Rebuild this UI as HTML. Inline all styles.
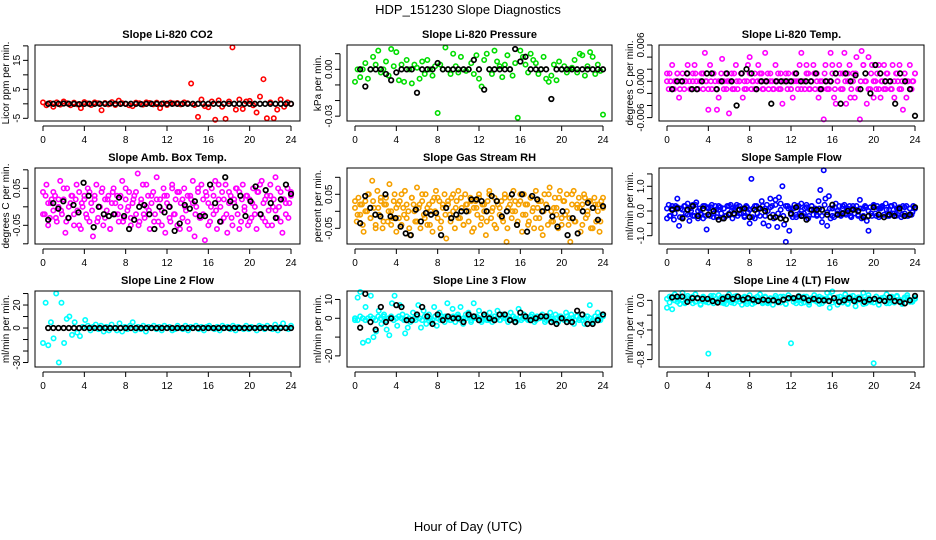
<!DOCTYPE html>
<html><head><meta charset="utf-8">
<style>
html,body{margin:0;padding:0;background:#fff;}
svg{display:block;font-family:"Liberation Sans",sans-serif;}
</style></head>
<body>
<svg id="fig" width="936" height="540" viewBox="0 0 936 540">
<text x="468" y="14" text-anchor="middle" font-size="13">HDP_151230  Slope Diagnostics</text>
<text x="468" y="531" text-anchor="middle" font-size="13">Hour of Day (UTC)</text>
</svg>
<script>
const xTicks=[0,4,8,12,16,20,24];
// Panel 1 CO2
const co2Vals=[0.5,-0.5,0.3,-1,0.5,-0.3,0.8,0.2,-0.5,0.4,-0.2,-1.5,0.6,0.1,-0.4,0.5,0.2,-2.2,0.3,-0.2,0.6,-0.4,1.1,0.2,0,-0.5,-0.8,0.4,0.2,-0.3,0.5,0.3,-0.2,0.4,-1.5,0.2,-0.4,0.4,0.1,0.3,-0.2,0.5,0.2,7,-0.4,-4.5,1.5,-0.8,-1.2,0.8,-5.5,1.2,-1.0,-5.2,0.8,19.5,-2,1.5,-1.8,0.8,1.0,-0.5,-3,2.5,8.5,-5,0.5,-5,-2,1.5,-1,0.5,0];
const co2Vals2=[];
const co2Ref=[0,0,0,0.1,0,0,-0.1,0,0,0,0,0,0.1,0,0,0,0,0,-0.1,0,0,0,0,0,0,0,0,0,0,0,0,0,0,0,0,0,0,0,0,0,0,0,0,0,0,0,0,0];
// Panel 2 Pressure
const presVals=[-0.008,0,-0.005,0,0.004,-0.006,0,0.008,0.003,0.012,-0.002,0,0.005,-0.004,0.013,0.002,0.011,-0.007,0.003,-0.008,0.006,0,-0.009,0.003,0.001,-0.006,0.005,-0.003,0.006,0,-0.004,0.002,-0.028,0.003,0,0.014,0,-0.003,0.01,0.002,-0.002,0.008,0,-0.001,0,0.004,-0.003,0.009,-0.006,-0.011,0.006,0.01,0,-0.003,0.012,0.005,0.002,-0.005,0.003,0.009,0,-0.004,0.004,-0.031,0.012,0.008,0.003,-0.002,0.01,0.006,0.004,-0.003,0,0.008,-0.006,-0.008,-0.004,0.003,-0.007,0.005,0,0.002,-0.002,0,0.001,0.006,-0.002,0.01,0.009,-0.004,0.002,0.011,0.008,-0.003,0.003,-0.001,-0.029];
const presVals2=[];
const presRef=[0,-0.011,0,0,0,-0.003,-0.007,-0.002,0,0,0,-0.015,0,0,0,0.004,0,0,0,0,0,0,0.006,0,-0.013,0,0,0,0,0,0.013,0.005,0.008,0,0,0,0,-0.019,0,0,0,0,0,0,0,0,0,0];
// Panel 3 Li-820 temp (values in 0.001 degC/min)
const tempValsMilli=[1.3,-1.3,0,2.7,-1.3,0,1.3,-2.7,0,1.3,-1.3,0,2.7,0,-1.3,1.3,2.7,0,-1.3,0,1.3,-1.3,4.7,0,-4.7,2.7,-1.3,1.3,0,-4.7,-2.7,0,3.7,-1.3,1.3,0,-5.3,0,-1.3,1.3,2.7,-1.3,0,1.3,-2.7,0,-1.3,2.7,4,-1.3,0,1.3,-1.3,2.7,0,1.3,-1.3,4.7,0,-1.3,1.3,0,-1.3,2.7,0,-1.3,1.3,-3.7,0,1.3,-1.3,0,-1.3,-2.7,1.3,0,-1.3,2.7,4.7,0,-1.3,2.7,1.3,-1.3,0,2.7,-1.3,1.3,-2.7,0,-1.3,-6.3,2.7,0,-1.3,4.7,1.3,-2.7,-3.7,0,2.7,-1.3,1.3,4.7,-3.7,0,2.7,-1.3,1.3,-2.7,4,-1.3,-6.3,5,2.7,0,-3.7,4,-1.3,2.7,-2.7,0,1.3,-1.3,-2.7,0,2.7,-1.3,1.3,0,-1.3,2.7,-2.7,1.3,0,2.7,-1.3,-4.7,1.3,-2.7,0,2.7,-1.3,0,1.3];
const tempValsMilli2=[0,1.3,-1.3,0,1.3,-1.3,0,0,1.3,-1.3,0,1.3,-1.3,0,1.3,0,-1.3,0,1.3,-1.3,0,1.3,0,-1.3,0,1.3,-1.3,0,0,1.3,-1.3,0,1.3,0,-1.3,0,1.3,-1.3,0,1.3,0,-1.3,0,1.3,-1.3,0,0,1.3,-1.3,0,1.3,0,-1.3,0,1.3,-1.3,0,1.3,0,-1.3,0,1.3,-1.3,0,2.7,-1.3,0,1.3,-1.3,0,1.3,-2.7,0,1.3,-1.3,0,2.7,0,-1.3,1.3,0,-1.3,2.7,0,-1.3,1.3,0,-1.3,0,1.3,-1.3,0,1.3,0,-1.3,0,1.3];
const tempRefMilli=[-1.3,0,0,1.3,-1.3,-1.3,0,1.3,1.3,-1.3,0,1.3,0,-4,1.3,2,1.3,-1.3,0,0,-3.7,0,0,0,0,1.3,0,0,0,1.3,-1.3,0,0,1.3,-3.7,1.3,0,1,-1.3,1.3,-2,2.7,1.3,0,0,-3.7,1.3,0,-1.3,-5.7];
// Panel 4 Amb box temp
const ambVals=[0.04,-0.02,0.06,0.01,-0.03,0.02,-0.01,0.03,-0.04,0.00,0.07,-0.02,0.02,-0.07,0.05,-0.03,0.01,0.03,-0.05,0.02,-0.01,0.04,-0.06,0.00,0.03,-0.02,0.05,-0.04,0.01,-0.08,0.02,0.06,-0.03,0.00,0.04,-0.05,0.02,-0.01,0.03,-0.06,0.01,0.05,-0.02,0.03,-0.04,0.00,0.07,-0.03,0.02,-0.01,0.04,-0.05,0.01,0.03,-0.02,0.09,-0.04,0.02,0.06,-0.03,0.00,0.03,-0.06,0.01,0.04,-0.02,0.08,-0.04,0.02,-0.01,0.05,-0.07,0.03,0.00,-0.04,0.06,-0.02,0.02,-0.05,0.04,0.01,-0.03,0.05,-0.01,0.03,-0.06,0.02,0.07,-0.08,0.00,0.04,-0.03,0.06,-0.02,-0.09,0.03,0.01,-0.04,0.05,-0.02,0.07,-0.06,0.02,0.00,0.04,-0.03,0.06,-0.07,0.01,0.03,-0.05,0.02,0.05,-0.02,0.04,-0.04,0.06,-0.01,0.03,-0.05,0.02,-0.03,0.05,0.00,-0.06,0.04,-0.02,0.07,0.01,-0.04,0.03,-0.01,0.06,-0.05,0.02,0.08,-0.03,0.00,0.04,-0.07,0.02,-0.02,0.05,0.01,0.03];
const ambVals2=[-0.02,0.03,-0.05,0.01,0.04,-0.03,0.02,-0.01,0.05,-0.04,0.00,0.03,-0.02,0.06,-0.05,0.01,0.02,-0.03,0.04,-0.01,0.03,-0.04,0.00,0.05,-0.03,0.02,-0.06,0.04,0.01,-0.02,0.03,-0.04,0.05,0.00,-0.03,0.02,0.04,-0.05,0.01,-0.02,0.06,-0.01,0.03,-0.04,0.02,0.00,-0.05,0.03,0.01,-0.03,0.05,-0.02,0.04,-0.06,0.02,0.00,-0.04,0.03,0.01,-0.02,0.05,-0.03,0.02,0.04,-0.05,0.00,0.03,-0.01,0.06,-0.04,0.02,-0.02,0.04,-0.03,0.01,0.05,-0.06,0.02,0.00,0.03,-0.04,0.01,-0.02,0.04,0.06,-0.03,0.02,-0.05,0.03,0.00,-0.01,0.05,-0.04,0.02,0.01,-0.03,0.04];
const ambRef=[-0.035,0.01,-0.005,0.015,-0.03,0.005,-0.015,0.065,0.03,-0.055,0,-0.02,-0.025,-0.02,0.025,-0.025,-0.06,-0.035,0.0,0.005,-0.02,-0.06,0.0,-0.015,0.0,-0.065,-0.045,0.005,-0.005,0.015,-0.025,-0.025,0.06,0.01,-0.04,0.08,0.015,0.0,0.03,-0.025,0.015,0.055,-0.02,0.045,0.01,-0.03,0.02,0.06,0.035];
// Panel 5 RH
const rhVals=[0.01,-0.03,0.04,-0.01,0.02,-0.06,0.03,0.00,0.05,-0.02,0.09,0.01,-0.04,0.06,-0.01,0.03,-0.05,0.02,0.04,-0.03,0.08,0.00,-0.02,0.05,-0.06,0.02,0.03,-0.04,0.01,0.06,-0.02,0.00,-0.07,0.04,0.02,-0.03,0.07,0.01,-0.05,0.03,-0.01,0.05,-0.04,0.02,0.00,-0.06,0.04,0.06,-0.02,0.03,-0.03,0.01,0.05,-0.08,0.02,-0.01,0.04,0.00,-0.05,0.03,0.06,-0.02,0.01,-0.04,0.05,0.02,-0.03,0.04,-0.06,0.01,0.03,-0.01,0.05,-0.04,0.02,0.00,-0.07,0.03,0.06,-0.02,0.01,0.04,-0.05,0.02,-0.01,0.03,-0.03,0.05,-0.09,0.01,0.04,-0.02,0.06,0.00,-0.04,0.02,0.03,-0.06,0.05,-0.01,0.02,-0.03,0.04,0.00,-0.05,0.06,0.01,-0.02,0.03,-0.07,0.05,0.02,-0.04,0.07,0.00,-0.03,0.04,0.01,-0.05,0.06,-0.02,0.03,-0.01,0.05,-0.04,-0.09,0.02,0.06,-0.03,0.01,0.04,-0.06,0.02,0.05,-0.02,0.00,0.03,-0.05,0.01,0.04,-0.03,0.02,-0.06,0.03,0.01];
const rhVals2=[0.03,-0.01,0.02,-0.04,0.00,0.05,-0.02,0.03,-0.05,0.01,0.04,-0.03,0.02,0.00,-0.04,0.03,0.01,-0.02,0.05,-0.01,0.02,-0.05,0.04,0.00,-0.03,0.02,0.05,-0.02,0.01,-0.04,0.03,0.00,0.04,-0.05,0.02,-0.01,0.03,-0.03,0.05,0.01,-0.02,0.04,-0.04,0.02,0.00,0.03,-0.05,0.01,0.04,-0.02,0.02,-0.03,0.05,0.00,-0.04,0.03,0.01,-0.02,0.04,-0.05,0.02,0.00,0.03,-0.03,0.05,-0.01,0.02,-0.04,0.04,0.01,-0.02,0.03,-0.05,0.00,0.02,0.05,-0.03,0.01,-0.01,0.04,-0.04,0.03,0.00,-0.02,0.05,-0.03,0.02,0.01,-0.04,0.04,-0.01,0.03,-0.05,0.02,0.00,-0.03,0.04];
const rhRef=[-0.035,0.045,0.01,-0.01,-0.015,0.05,-0.015,-0.02,-0.045,-0.065,-0.07,0.005,-0.03,-0.005,-0.01,-0.005,-0.07,0.01,-0.02,-0.01,0,0,0.035,0.035,0.03,0,0.045,0.03,-0.015,0,0.05,-0.04,0.05,-0.06,0.045,0.035,0,0.01,-0.015,-0.045,0,-0.07,-0.02,-0.065,0,0.025,0.01,-0.025,0.015];
// Panel 6 Sample flow
const sampVals=[-0.3,0.25,-0.2,0.1,-0.35,0.2,0.5,-0.6,0.1,-0.25,0.2,-0.1,0.3,-0.4,0.0,0.25,-0.2,0.35,-0.3,0.1,-0.15,-0.3,0.2,-0.75,0.15,-0.2,0.25,-0.1,0.2,-0.25,0.05,0.15,-0.3,0.1,-0.2,0.2,-0.1,0.25,-0.3,0.05,0.15,-0.2,0.2,-0.1,0.1,-0.25,0.2,-0.05,-0.5,1.3,0.1,-0.3,0.2,0.1,-0.2,0.4,-0.5,0.1,0.25,-0.6,0.5,0.2,-0.3,0.45,-0.65,0.55,0.3,1.0,-0.55,-1.25,0.2,-0.8,0.1,-0.25,0.25,-0.15,0.2,-0.1,0.3,-0.2,0.1,0.25,-0.3,0.05,0.2,-0.15,0.1,-0.2,0.4,0.85,-0.45,1.65,0.5,-0.6,0.6,-0.3,0.1,-0.25,0.3,-0.1,0.2,-0.2,0.1,0.25,-0.15,0.05,0.2,-0.25,0.1,-0.1,0.2,-0.2,0.45,-0.3,0.1,0.2,-0.4,-0.8,0.15,-0.2,0.25,-0.1,0.2,-0.25,0.1,0.2,-0.15,0.3,-0.2,0.05,0.2,-0.1,0.25,-0.2,0.1,0.15,-0.25,0.2,-0.1,0.2,-0.2,0.1,-0.15,0.2,0.1];
const sampVals2=[0.1,-0.2,0.2,-0.1,0.15,-0.25,0.05,0.2,-0.15,0.1,-0.2,0.25,0.0,-0.1,0.2,-0.2,0.1,0.15,-0.25,0.05,0.2,-0.1,0.1,-0.2,0.2,0.0,-0.15,0.25,-0.1,0.1,-0.2,0.15,0.05,-0.25,0.2,-0.1,0.1,0.2,-0.2,0.0,0.15,-0.15,0.25,-0.1,0.05,-0.2,0.2,0.1,-0.15,0.1,-0.25,0.2,0.0,-0.1,0.15,-0.2,0.2,0.05,-0.15,0.1,-0.2,0.25,-0.05,0.1,-0.2,0.15,0.0,-0.15,0.2,-0.1,0.1,-0.2,0.2,0.05,-0.15,0.1,-0.2,0.15,0.0,-0.1,0.2,-0.2,0.1,0.15,-0.15,0.05,-0.2,0.2,-0.1,0.1,0.0,-0.15,0.15,-0.2,0.1,-0.05,0.1];
const sampRef=[0.05,0.1,-0.3,0.05,0.2,-0.2,0.1,-0.15,0.0,-0.35,-0.3,-0.15,-0.1,0.05,0.1,-0.25,0.05,0.1,0.0,-0.25,-0.25,-0.3,-0.35,-0.1,0.15,-0.2,-0.35,0.05,0.05,0.05,-0.15,0.25,-0.15,-0.1,0.0,0.05,0.0,-0.25,-0.2,0.15,-0.15,-0.25,-0.15,-0.2,0.1,-0.2,-0.15,0.15];
// Panel 7 Line 2
const l2Vals=[-13,22,-15,5,-9,30,-30,22,-13,8,10,-6,5,-4,-7,1,7,2,-2,1,3,-1,2,-3,1,-2,3,0,-2,4,-3,1,-1,2,5,-2,1,-1,2,-3,1,0,2,-1,1,-2,2,0,1,-2,-1,2,0,-1,2,-2,1,0,2,-1,1,-2,1,2,0,-1,1,-2,2,0,1,-1,2,-2,1,0,-1,2,-1,1,0,-2,2,1,-1,2,0,-1,3,-2,1,4,0,-1,2];
const l2Vals2=[];
const l2Ref=[0,0,0,0,0,0,0,0,0,0,0,0,0,0,0,0,0,0,0,0,0,0,0,0,0,0,0,0,0,0,0,0,0,0,0,0,0,0,0,0,0,0,0,0,0,0,0,0];
// Panel 8 Line 3
const l3Vals=[-1,11,14,-13,6,-12,12,-10,-7,4,-3,2,-6,-9,8,12,-4,7,2,-8,-5,-2,3,-1,7,-5,4,-3,2,-2,6,-4,3,1,-2,8,-1,5,-2,2,6,-3,2,3,-2,8,0,4,-2,2,-1,3,-2,1,4,-1,2,0,-2,3,1,-2,5,-1,2,0,-1,2,-2,1,0,2,-2,1,3,-1,2,-2,1,0,3,-1,2,-3,1,-1,2,-3,1,7,-2,1,3,-1,2];
const l3Vals2=[0,-1,1,0,-1,0,1,0,-1,1,0,1,-1,0,1,-1,0,1,0,-1,1,0,-1,0,1,0,-1,1,0,0,-1,1,0,-1,0,1,0,-1,1,0,1,-1,0,0,1,-1,0,1,0,-1,1,0,-1,0,1,0,-1,1,0,0,-1,1,0,-1,1,0,0,-1,1,0,-1,0,1,0,-1,1,0,-1,0,1,0,-1,1,0,0,-1,1,0,-1,0,1,0,-1,1,0,0,1];
const l3Ref=[-5,13,-2,-6,6,-2,0,7,6,-1,-1,2,6,1,-3,2,-1,1,0,0,-2,2,1,-1,2,0,-1,2,2,-1,-2,3,1,-1,0,1,1,-2,-3,0,-2,-2,4,2,-3,-3,-1,2];
// Panel 9 Line 4
const l4Vals=[-0.1,0.05,-0.12,0.08,0.02,-0.05,0.1,-0.03,0.06,0.0,-0.04,0.08,0.03,-0.06,0.05,-0.02,-0.72,0.06,-0.04,0.02,0.07,-0.03,0.04,-0.05,0.08,0.0,-0.04,0.06,0.02,-0.06,0.05,-0.02,0.07,-0.05,0.03,0.0,0.08,-0.04,0.05,-0.02,0.03,-0.06,0.06,0.0,-0.03,0.05,-0.05,0.07,-0.58,0.02,-0.04,0.06,0.0,-0.03,0.05,-0.06,0.03,0.07,-0.02,0.05,-0.04,0.02,0.1,-0.1,0.12,0.0,-0.06,0.05,-0.03,0.08,-0.05,0.02,0.06,-0.08,0.04,0.0,0.1,-0.04,0.07,-0.02,-0.85,0.05,-0.06,0.03,0.0,0.08,-0.04,0.05,-0.03,0.06,0.0,-0.05,0.04,0.07,-0.02,0.0,0.02];
const l4Vals2=[0.02,-0.03,0.05,0.0,-0.02,0.04,0.01,-0.04,0.03,0.0,0.05,-0.02,0.02,-0.05,0.04,0.0,-0.03,0.03,0.06,-0.02,0.0,0.04,-0.04,0.02,0.01,-0.03,0.05,0.0,-0.02,0.03,0.04,-0.05,0.02,0.0,-0.03,0.05,0.01,-0.02,0.04,-0.04,0.02,0.0,0.03,-0.03,0.05,0.01,-0.05,0.02,0.04,-0.02,0.0,0.03,-0.04,0.05,0.01,-0.03,0.02,0.0,0.04,-0.05,0.03,-0.01,0.02,0.05,-0.03,0.0,0.04,-0.02,0.01,0.03,-0.04,0.05,0.0,-0.02,0.02,0.04,-0.05,0.01,0.03,0.0,-0.03,0.05,-0.01,0.02,0.04,-0.04,0.0,0.03,-0.02,0.05,0.01,-0.03,0.02,0.04,0.0,-0.02,0.03];
const l4Ref=[0.04,0.05,0.05,-0.02,0.03,0.03,0.02,0.02,-0.01,-0.03,0.02,0.05,0.02,0.05,0.01,0.03,0.01,-0.01,0.01,0,0,-0.02,0.01,0.03,0.03,0.05,0.03,0,0.02,0,0,-0.01,0.03,-0.02,0,0.03,-0.01,0.02,-0.02,0.01,0.02,0,-0.01,0.04,-0.01,-0.02,-0.04,0,0.06];

const tempVals=tempValsMilli.map(v=>v/1000), tempVals2=tempValsMilli2.map(v=>v/1000), tempRef=tempRefMilli.map(v=>v/1000);

const colL=[35,347,659], rowT=[45,168,291], rowB=[121,244,367];
const panels=[
 {name:'co2',title:'Slope Li-820 CO2',yl:'Licor ppm per min.',c:0,r:0,dom:[-5.93,20.3],ticks:[-5,0,5,10,15,20],labs:['-5','','5','','15',''],vals:co2Vals,vals2:co2Vals2,ref:co2Ref,col:'#ff0000'},
 {name:'pressure',title:'Slope Li-820 Pressure',yl:'kPa per min.',c:1,r:0,dom:[-0.0331,0.01558],ticks:[-0.03,-0.02,-0.01,0,0.01],labs:['-0.03','','','0.00',''],vals:presVals,vals2:presVals2,ref:presRef,col:'#00dd00'},
 {name:'li820-temp',title:'Slope Li-820 Temp.',yl:'degrees C per min.',c:2,r:0,dom:[-0.00656,0.006],ticks:[-0.006,-0.004,-0.002,0,0.002,0.004,0.006],labs:['-0.006','','','0.000','','','0.006'],vals:tempVals,vals2:tempVals2,ref:tempRef,col:'#ff00ff'},
 {name:'amb-box-temp',title:'Slope Amb. Box Temp.',yl:'degrees C per min.',c:0,r:1,dom:[-0.1005,0.1049],ticks:[-0.1,-0.05,0,0.05,0.1],labs:['','-0.05','','0.05',''],vals:ambVals,vals2:ambVals2,ref:ambRef,col:'#ff00ff'},
 {name:'gas-stream-rh',title:'Slope Gas Stream RH',yl:'percent per min.',c:1,r:1,dom:[-0.0962,0.1274],ticks:[-0.05,0,0.05,0.1],labs:['-0.05','','0.05',''],vals:rhVals,vals2:rhVals2,ref:rhRef,col:'#f5a000'},
 {name:'sample-flow',title:'Slope Sample Flow',yl:'ml/min per min.',c:2,r:1,dom:[-1.336,1.74],ticks:[-1,-0.5,0,0.5,1,1.5],labs:['-1.0','','0.0','','1.0',''],vals:sampVals,vals2:sampVals2,ref:sampRef,col:'#0000ff'},
 {name:'line2-flow',title:'Slope Line 2 Flow',yl:'ml/min per min.',c:0,r:2,dom:[-33.9,32.2],ticks:[-30,-20,-10,0,10,20,30],labs:['-30','','','0','','20',''],vals:l2Vals,vals2:l2Vals2,ref:l2Ref,col:'#00ffff'},
 {name:'line3-flow',title:'Slope Line 3 Flow',yl:'ml/min per min.',c:1,r:2,dom:[-25.9,14.5],ticks:[-20,-10,0,10],labs:['-20','','0','10'],vals:l3Vals,vals2:l3Vals2,ref:l3Ref,col:'#00ffff'},
 {name:'line4-flow',title:'Slope Line 4 (LT) Flow',yl:'ml/min per min.',c:2,r:2,dom:[-0.90,0.126],ticks:[-0.8,-0.6,-0.4,-0.2,0],labs:['-0.8','','-0.4','','0.0'],vals:l4Vals,vals2:l4Vals2,ref:l4Ref,col:'#00ffff'}
];
const NS='http://www.w3.org/2000/svg', svg=document.getElementById('fig');
function mk(t,a,p){const e=document.createElementNS(NS,t);for(const k in a)e.setAttribute(k,a[k]);(p||svg).appendChild(e);return e;}
panels.forEach(p=>{
 const L=colL[p.c],R=L+265,T=rowT[p.r],B=rowB[p.r];
 const xs=h=>L+8+h*(248/24);
 const ys=v=>B-(v-p.dom[0])/(p.dom[1]-p.dom[0])*(B-T);
 const g=mk('g',{});
 
 
 const ti=mk('text',{x:(L+R)/2,y:T-7,'text-anchor':'middle','font-size':11,'font-weight':'bold'},g);ti.textContent=p.title;
 
 
 [p.vals2,p.vals].forEach(arr=>{
  const n=arr.length;
  arr.forEach((v,i)=>{
   const c=mk('circle',{cx:xs(i*24/(n-1)),cy:ys(v),r:2.2,fill:'none',stroke:p.col,'stroke-width':1.6},g);
   
   
  });
 });
 const m=p.ref.length;
 p.ref.forEach((v,i)=>{
  const c=mk('circle',{cx:xs(0.5+i*23.5/(m-1)),cy:ys(v),r:2.3,fill:'none',stroke:'#000','stroke-width':1.7},g);
  
  
 });
 const bx=mk('rect',{x:L,y:T,width:R-L,height:B-T,fill:'none',stroke:'#000','stroke-width':1},g);
 
 
 const ax=B+5;
 mk('line',{x1:xs(0),x2:xs(24),y1:ax,y2:ax,stroke:'#000'},g);
 xTicks.forEach(t=>{
  mk('line',{x1:xs(t),x2:xs(t),y1:ax,y2:ax+5,stroke:'#000'},g);
  const tx=mk('text',{x:xs(t),y:ax+17,'text-anchor':'middle','font-size':10},g);tx.textContent=t;
  
  
 });
 const yx=L-7;
 mk('line',{x1:yx,x2:yx,y1:ys(p.ticks[0]),y2:ys(p.ticks[p.ticks.length-1]),stroke:'#000'},g);
 p.ticks.forEach((t,i)=>{
  const y=ys(t);
  mk('line',{x1:yx-5,x2:yx,y1:y,y2:y,stroke:'#000'},g);
  if(p.labs[i]){const tx=mk('text',{x:yx-8,y:y,'text-anchor':'middle','font-size':10,transform:`rotate(-90 ${yx-8} ${y})`},g);tx.textContent=p.labs[i];
   
   }
 });
 const yt=mk('text',{x:L-26,y:(T+B)/2,'text-anchor':'middle','font-size':10,transform:`rotate(-90 ${L-26} ${(T+B)/2})`},g);yt.textContent=p.yl;
 
 
});
</script>
</body></html>
